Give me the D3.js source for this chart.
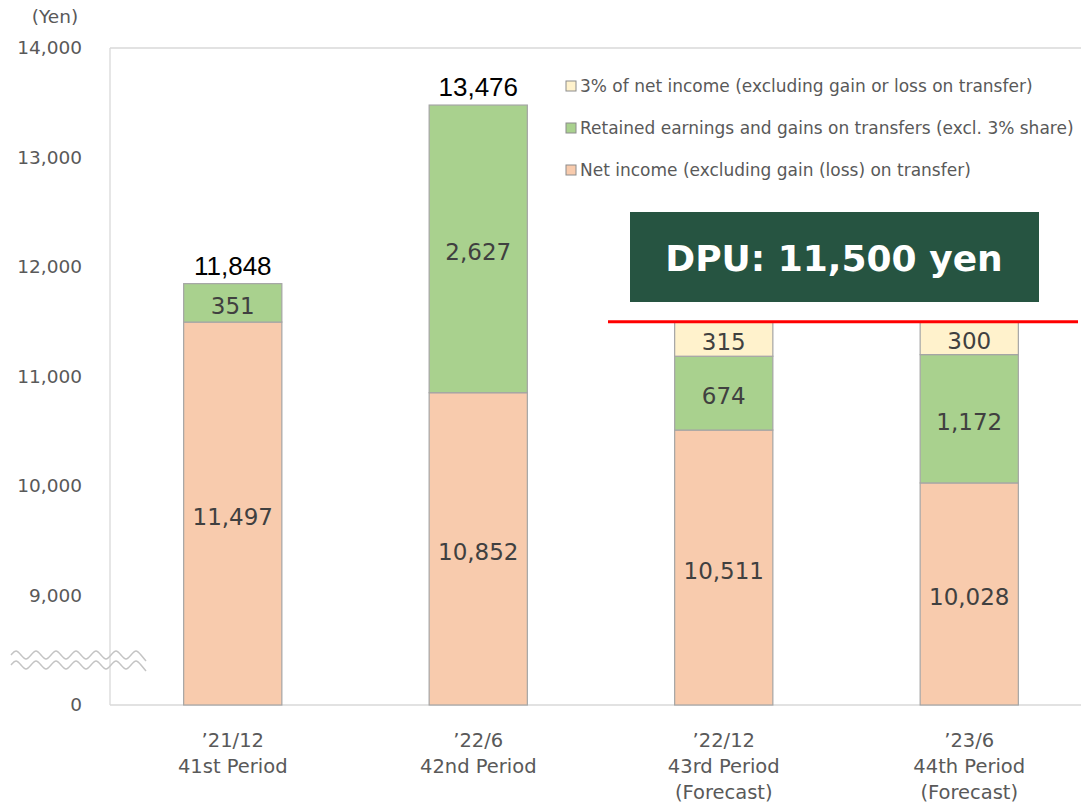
<!DOCTYPE html>
<html>
<head>
<meta charset="utf-8">
<script src="https://cdn.jsdelivr.net/npm/d3@7"></script>
<style>
  body { margin: 0; background: #fff; }
  svg { display: block; }
</style>
</head>
<body>
<svg id="chart" width="1081" height="807"></svg>
<script>
// chart values
const periods = ["'21/12", "'22/6", "'22/12", "'23/6"];
const periodNames = ["41st Period", "42nd Period", "43rd Period", "44th Period"];
const forecastNote = ["", "", "(Forecast)", "(Forecast)"];
const netIncome = [11497, 10852, 10511, 10028];
const retained = [351, 2627, 674, 1172];
const threePct = [0, 0, 315, 300];
const totals = [11848, 13476, null, null];
const yTicks = [8000, 9000, 10000, 11000, 12000, 13000, 14000];
const yTickLabels = ["0", "9,000", "10,000", "11,000", "12,000", "13,000", "14,000"];
const dpuValue = 11500;
const dpuLabel = "DPU: 11,500 yen";

const seriesNames = [
    "3% of net income (excluding gain or loss on transfer)",
    "Retained earnings and gains on transfers (excl. 3% share)",
    "Net income (excluding gain (loss) on transfer)"
];
const seriesColors = { net: "#F8CBAD", ret: "#A9D18E", pct: "#FFF2CC" };

const mainFont = "'DejaVu Sans', Verdana, sans-serif";

const svg = d3.select("#chart");
const plotLeft = 110, plotRight = 1092, plotTop = 48, plotBottom = 705;

const x = d3.scaleBand()
    .domain(d3.range(periods.length))
    .range([plotLeft, plotRight])
    .paddingInner(0.6)
    .paddingOuter(0.3);

// the axis is broken: "0" is drawn where 8,000 would be
const y = d3.scaleLinear().domain([8000, 14000]).range([plotBottom, plotTop]);

// plot frame
const frame = svg.append("g").attr("stroke", "#d9d9d9").attr("stroke-width", 1.3);
frame.append("line").attr("x1", plotLeft).attr("x2", 1081).attr("y1", plotTop).attr("y2", plotTop);
frame.append("line").attr("x1", plotLeft).attr("x2", plotLeft).attr("y1", plotTop).attr("y2", plotBottom);
frame.append("line").attr("x1", plotLeft).attr("x2", 1081).attr("y1", plotBottom).attr("y2", plotBottom);

// y axis labels
const yAxis = d3.axisLeft(y)
    .tickValues(yTicks)
    .tickFormat((d, i) => yTickLabels[i])
    .tickSize(0)
    .tickPadding(28);
const ga = svg.append("g").attr("transform", `translate(${plotLeft},0)`).call(yAxis);
ga.select(".domain").remove();
ga.selectAll("text")
    .attr("fill", "#595959")
    .style("font-family", mainFont)
    .style("font-size", "18.5px");

svg.append("text")
    .attr("x", 55).attr("y", 23)
    .attr("text-anchor", "middle")
    .attr("fill", "#595959")
    .style("font-family", mainFont)
    .style("font-size", "18.5px")
    .text("(Yen)");

// stacked segments
const stack = periods.map((p, i) => {
    const segs = [];
    let base = 0;
    [[netIncome[i], seriesColors.net], [retained[i], seriesColors.ret], [threePct[i], seriesColors.pct]].forEach(([v, c]) => {
        if (v > 0) {
            segs.push({ i: i, v: v, y0: base, y1: base + v, color: c });
            base += v;
        }
    });
    return segs;
}).flat();

// net income starts from the axis bottom
const segBottom = d => d.y0 === 0 ? 8000 : d.y0;

const bars = svg.append("g");
bars.selectAll("rect")
    .data(stack)
    .enter()
    .append("rect")
    .attr("x", d => x(d.i))
    .attr("width", x.bandwidth())
    .attr("y", d => y(d.y1))
    .attr("height", d => y(segBottom(d)) - y(d.y1))
    .attr("fill", d => d.color)
    .attr("stroke", "#a5a5a5")
    .attr("stroke-width", 1.2);

bars.selectAll("text")
    .data(stack)
    .enter()
    .append("text")
    .attr("x", d => x(d.i) + x.bandwidth() / 2)
    .attr("y", d => (y(d.y1) + y(segBottom(d))) / 2)
    .attr("dy", "0.48em")
    .attr("text-anchor", "middle")
    .attr("fill", "#404040")
    .style("font-family", mainFont)
    .style("font-size", "23px")
    .text(d => d3.format(",")(d.v));

// totals above the actual periods
svg.append("g").selectAll("text")
    .data(totals.map((t, i) => ({ t, i })).filter(d => d.t !== null))
    .enter()
    .append("text")
    .attr("x", d => x(d.i) + x.bandwidth() / 2)
    .attr("y", d => y(d3.sum([netIncome[d.i], retained[d.i], threePct[d.i]])) - 9)
    .attr("text-anchor", "middle")
    .attr("fill", "#000")
    .style("font-family", "'Liberation Sans', Arial, sans-serif")
    .style("font-size", "26px")
    .text(d => d3.format(",")(d.t));

// category labels
const cat = svg.append("g").selectAll("text")
    .data(periods)
    .enter()
    .append("text")
    .attr("x", (d, i) => x(i) + x.bandwidth() / 2)
    .attr("y", 747)
    .attr("text-anchor", "middle")
    .attr("fill", "#595959")
    .style("font-family", mainFont)
    .style("font-size", "19.5px");
cat.append("tspan").attr("x", (d, i) => x(i) + x.bandwidth() / 2).text(d => d.replace("'", "\u2019"));
cat.append("tspan").attr("x", (d, i) => x(i) + x.bandwidth() / 2).attr("dy", 26).text((d, i) => periodNames[i]);
cat.append("tspan").attr("x", (d, i) => x(i) + x.bandwidth() / 2).attr("dy", 26).text((d, i) => forecastNote[i]);

// axis break marks
const wave = d3.line().curve(d3.curveBasis);
[655, 665].forEach(wy => {
    const pts = d3.range(11, 150, 5).map((px, k) => [px, wy + (k % 4 === 1 ? -6 : k % 4 === 3 ? 6 : 0)]);
    svg.append("path")
        .attr("d", wave(pts))
        .attr("fill", "none")
        .attr("stroke", "#c4c4c4")
        .attr("stroke-width", 1.5);
});

// legend
const legend = svg.append("g").attr("transform", "translate(566,86)");
const legendColors = [seriesColors.pct, seriesColors.ret, seriesColors.net];
seriesNames.forEach((name, i) => {
    const row = legend.append("g").attr("transform", `translate(0,${i * 42})`);
    row.append("rect")
        .attr("x", 0).attr("y", -5).attr("width", 10).attr("height", 10)
        .attr("fill", legendColors[i])
        .attr("stroke", "#8c8c8c")
        .attr("stroke-width", 1);
    row.append("text")
        .attr("x", 14).attr("dy", "0.35em")
        .attr("fill", "#595959")
        .style("font-family", mainFont)
        .style("font-size", "17px")
        .text(name);
});

// DPU line and box
svg.append("line")
    .attr("x1", 608).attr("x2", 1078)
    .attr("y1", y(dpuValue)).attr("y2", y(dpuValue))
    .attr("stroke", "#ff0000")
    .attr("stroke-width", 3);

svg.append("rect")
    .attr("x", 630).attr("y", 212)
    .attr("width", 409).attr("height", 90)
    .attr("fill", "#265441");

svg.append("text")
    .attr("x", 834).attr("y", 258)
    .attr("dy", "0.36em")
    .attr("text-anchor", "middle")
    .attr("fill", "#fff")
    .style("font-family", mainFont)
    .style("font-weight", "bold")
    .style("font-size", "36px")
    .text(dpuLabel);
</script>
</body>
</html>
